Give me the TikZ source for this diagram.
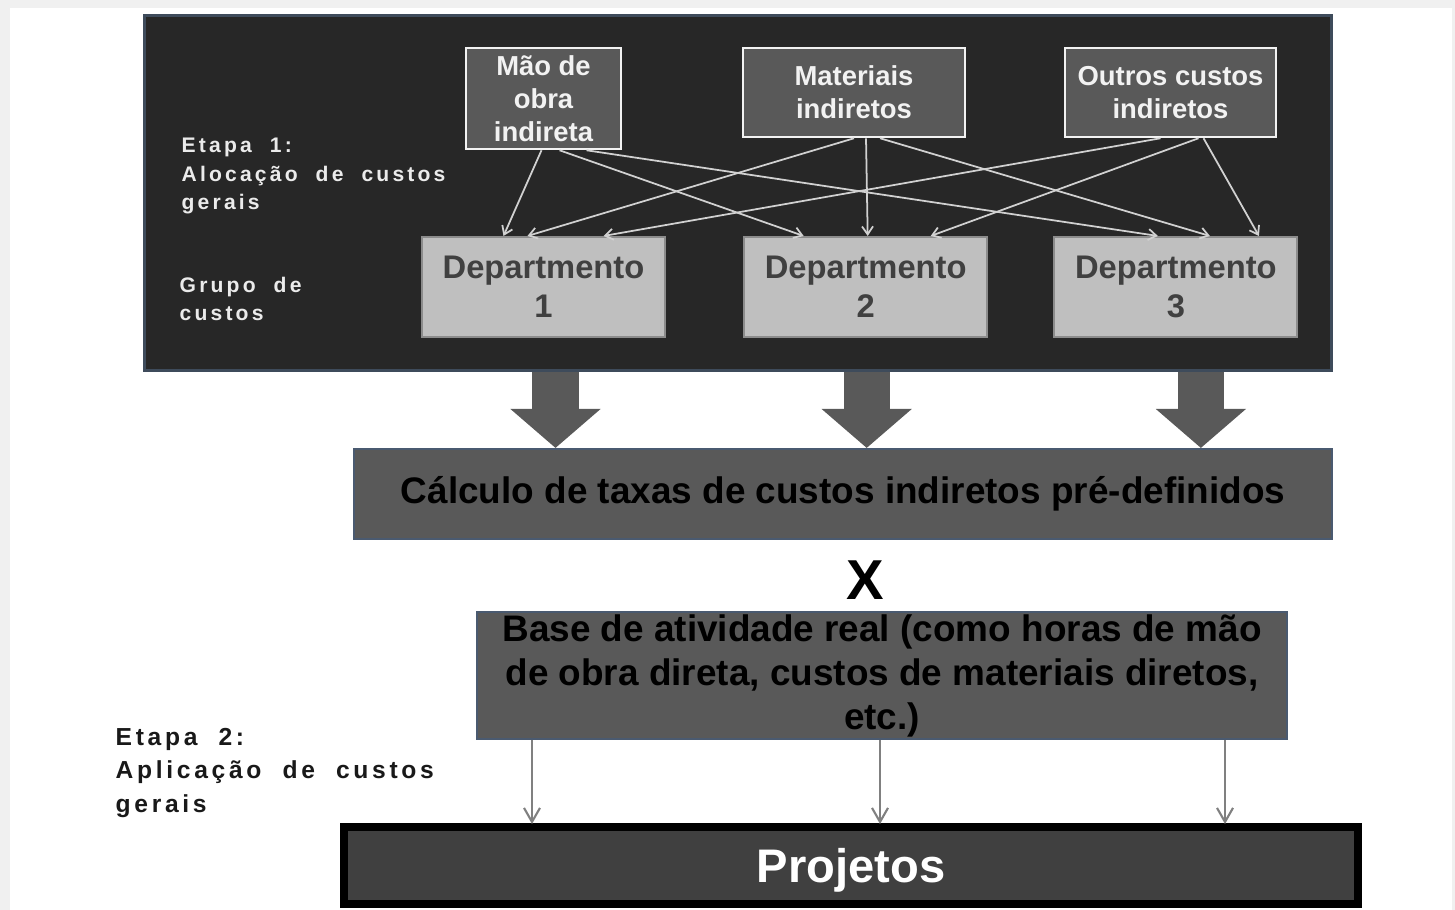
\documentclass[tikz,border=0pt]{standalone}
\usepackage{fontspec}
\setmainfont{Liberation Sans}
\newfontfamily\spacedfont[LetterSpace=15, WordSpace=2]{Liberation Sans}
\usetikzlibrary{positioning, arrows.meta, calc}
\definecolor{boardfill}{HTML}{272727}
\definecolor{boardline}{HTML}{3E4B5B}
\definecolor{costfill}{HTML}{595959}
\definecolor{deptfill}{HTML}{BFBFBF}
\definecolor{deptline}{HTML}{8C8C8C}
\definecolor{rateline}{HTML}{4A5A70}
\definecolor{projfill}{HTML}{404040}
\tikzset{
x=0.01cm, y=-0.01cm, % one unit is one pixel of the sketch
every node/.style={inner sep=0pt, align=center}, % no padding, centred lines
costbox/.style={draw=white!95!black, line width=0.025cm, fill=costfill, text=white!95!black,
  font=\bfseries\fontsize{7.8}{9.4}\selectfont}, % the three overhead sources
deptbox/.style={draw=deptline, line width=0.02cm, fill=deptfill, text=black!75,
  minimum width=2.43cm, minimum height=1cm, font=\bfseries\fontsize{9.3}{11.1}\selectfont}, % cost pools
ratebox/.style={draw=rateline, line width=0.02cm, fill=costfill, text=black,
  font=\bfseries\fontsize{10.5}{12.5}\selectfont}, % grey bands
steplabel/.style={anchor=west, align=left, font=\spacedfont\bfseries\fontsize{6}{8.1}\selectfont}, % left notes
feed/.style={draw=white!82!black, line width=0.5pt, -{Straight Barb[length=0.08cm, width=0.11cm]}}, % allocation lines
bigarrow/.style={draw=costfill, line width=0.46cm, -{Triangle[length=0.39cm, width=0.88cm]}}, % fat arrows
apply/.style={draw=black!50, line width=0.6pt, -{Straight Barb[length=0.14cm, width=0.16cm]}}, % application lines
}
\begin{document}
\begin{tikzpicture}
\useasboundingbox (0,0) rectangle (1455,910);
\fill[black!6] (0,0) rectangle (1455,910);
\fill[white] (10,8) rectangle (1452,910);

% stage 1 board
\node[draw=boardline, line width=0.03cm, fill=boardfill, minimum width=11.87cm, minimum height=3.55cm] (board) at (738,193) {};
\node[costbox, minimum width=1.55cm, minimum height=1.01cm] (mao) at (543.5,98.5) {Mão de\\obra\\indireta};
\node[costbox, minimum width=2.22cm, minimum height=0.89cm] (mat) at (854,92.5) {Materiais\\indiretos};
\node[costbox, minimum width=2.11cm, minimum height=0.89cm] (out) at (1170.5,92.5) {Outros custos\\indiretos};
\node[deptbox] (d1) at (543.5,287) {Departmento\\1};
\node[deptbox, right=0.77cm of d1] (d2) {Departmento\\2};
\node[deptbox, right=0.65cm of d2] (d3) {Departmento\\3};
\node[steplabel, text=white!92!black] (e1) at (181,176) {Etapa 1:\\Alocação de custos\\gerais};
\node[steplabel, text=white!92!black] (grp) at (179,299) {Grupo de\\custos};

\foreach \s/\so/\t/\to in {mao/-0.02/d1/-0.40, mao/0.16/d2/-0.62, mao/0.43/d3/-0.18,
  mat/0/d1/-0.16, mat/0.12/d2/0.02, mat/0.26/d3/0.34,
  out/-0.10/d1/0.60, out/0.28/d2/0.65, out/0.33/d3/0.83}
  \draw[feed] ([xshift=\so cm]\s.south) -- ([xshift=\to cm]\t.north);

% rates and bases
\node[ratebox, minimum width=9.78cm, minimum height=0.9cm] (calc) at (843,494) {Cálculo de taxas de custos indiretos pré-definidos};
\foreach \d/\dx in {d1/12, d2/1, d3/25}
  \draw[bigarrow] ($(\d.south |- board.south)+(\dx,0)$) -- ($(\d.south |- calc.north)+(\dx,0)$);
\node[font=\bfseries\fontsize{16}{16}\selectfont] (times) at (865,580) {X};
\node[ratebox, minimum width=8.1cm, minimum height=1.27cm] (base) at (882,675.5)
  {Base de atividade real (como horas de mão\\de obra direta, custos de materiais diretos,\\etc.)};

% stage 2
\node[draw=black, line width=0.08cm, fill=projfill, text=white, minimum width=10.14cm, minimum height=0.77cm,
  text depth=0pt, font=\bfseries\fontsize{13.4}{14}\selectfont] (proj) at (851,865.5) {Projetos};
\node[steplabel, text=black!90, font=\spacedfont\bfseries\fontsize{7}{9.5}\selectfont] (e2) at (115,773) {Etapa 2:\\Aplicação de custos\\gerais};
\foreach \dx in {-350, -2, 343}
  \draw[apply] ($(base.south)+(\dx,0)$) -- ++(0,84);

\end{tikzpicture}
\end{document}
